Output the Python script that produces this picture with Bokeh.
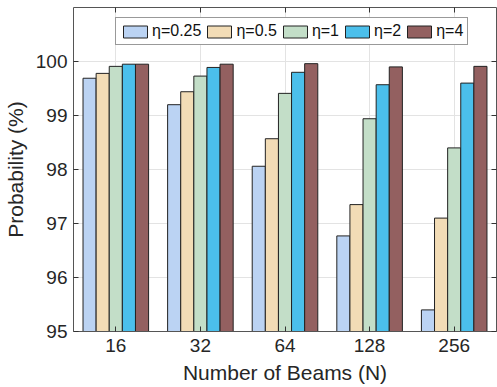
from bokeh.plotting import figure
from bokeh.models import (ColumnDataSource, FactorRange, Range1d, LinearAxis, CategoricalAxis,
                          FixedTicker, Legend, LegendItem, CustomJSTickFormatter)
from bokeh.transform import dodge
from bokeh.embed import file_html
from bokeh.resources import INLINE

beams = ["16", "32", "64", "128", "256"]
eta_labels = ["η=0.25", "η=0.5", "η=1", "η=2", "η=4"]
eta_025 = [99.69, 99.20, 98.06, 96.77, 95.40]
eta_05 = [99.78, 99.44, 98.57, 97.35, 97.10]
eta_1 = [99.91, 99.73, 99.41, 98.94, 98.40]
eta_2 = [99.95, 99.89, 99.80, 99.57, 99.60]
eta_4 = [99.95, 99.95, 99.96, 99.90, 99.91]
y_ticks = [95, 96, 97, 98, 99, 100]

series = [eta_025, eta_05, eta_1, eta_2, eta_4]
colors = ["#bbd3f3", "#f2dcb6", "#c3dec8", "#4bbfeb", "#936060"]

FONT = "Liberation Sans"
TXT = "#262626"

data = {"beams": beams}
for i, s in enumerate(series):
    data[f"s{i}"] = s
src = ColumnDataSource(data)

p = figure(width=497, height=387, x_range=FactorRange(*beams, range_padding=0),
           y_range=Range1d(95, 101), output_backend="svg", toolbar_location=None,
           min_border_left=71, min_border_right=1, min_border_top=7, min_border_bottom=56)
p.x_range.range_padding = 0

bw = 0.155
offsets = [-2 * bw, -bw, 0, bw, 2 * bw]
renderers = []
for i in range(5):
    r = p.vbar(x=dodge("beams", offsets[i], range=p.x_range), top=f"s{i}", bottom=95,
               width=bw, source=src, fill_color=colors[i], line_color="#222222", line_width=1)
    renderers.append(r)

# axes styling
for ax in [p.xaxis[0], p.yaxis[0]]:
    ax.axis_line_color = "#555555"
    ax.major_tick_line_color = "#333333"
    ax.major_tick_in = 5
    ax.major_tick_out = 0
    ax.minor_tick_line_color = None
    ax.major_label_text_font = FONT
    ax.major_label_text_color = TXT
    ax.major_label_text_font_size = "19px"
    ax.axis_label_text_font = FONT
    ax.axis_label_text_color = TXT
    ax.axis_label_text_font_size = "21px"
    ax.axis_label_text_font_style = "normal"

p.yaxis[0].ticker = FixedTicker(ticks=y_ticks)
p.yaxis[0].axis_label = "Probability (%)"
p.yaxis[0].major_label_standoff = 6
p.yaxis[0].axis_label_standoff = 6
p.xaxis[0].axis_label = "Number of Beams (N)"
p.xaxis[0].major_label_standoff = 7
p.xaxis[0].axis_label_standoff = 6

# box axes (top/right) with inward ticks, no labels
top = CategoricalAxis(formatter=CustomJSTickFormatter(code="return ''"), major_label_standoff=0,
                      major_tick_in=5, major_tick_out=0, axis_line_color="#555555",
                      major_tick_line_color="#333333")
right = LinearAxis(ticker=FixedTicker(ticks=y_ticks),
                   major_label_overrides={t: "" for t in y_ticks},
                   major_label_standoff=0, major_tick_in=5, major_tick_out=0,
                   minor_tick_line_color=None, axis_line_color="#555555",
                   major_tick_line_color="#333333")
p.add_layout(top, "above")
p.add_layout(right, "right")

p.xgrid.grid_line_color = "#e3e3e3"
p.ygrid.grid_line_color = "#e3e3e3"
p.ygrid.ticker = FixedTicker(ticks=y_ticks)
p.outline_line_color = None
p.background_fill_color = "white"
p.border_fill_color = "white"

legend = Legend(items=[LegendItem(label=eta_labels[i], renderers=[renderers[i]]) for i in range(5)],
                orientation="horizontal", location=(42, 286),
                glyph_width=30, glyph_height=15, label_standoff=2, spacing=3,
                padding=4, margin=0, label_text_font=FONT, label_text_font_size="16px",
                label_text_color="#111111", border_line_color="#333333", border_line_width=1,
                background_fill_alpha=1, label_height=15)
p.add_layout(legend, "center")

open("out.html", "w").write(file_html(p, INLINE))
